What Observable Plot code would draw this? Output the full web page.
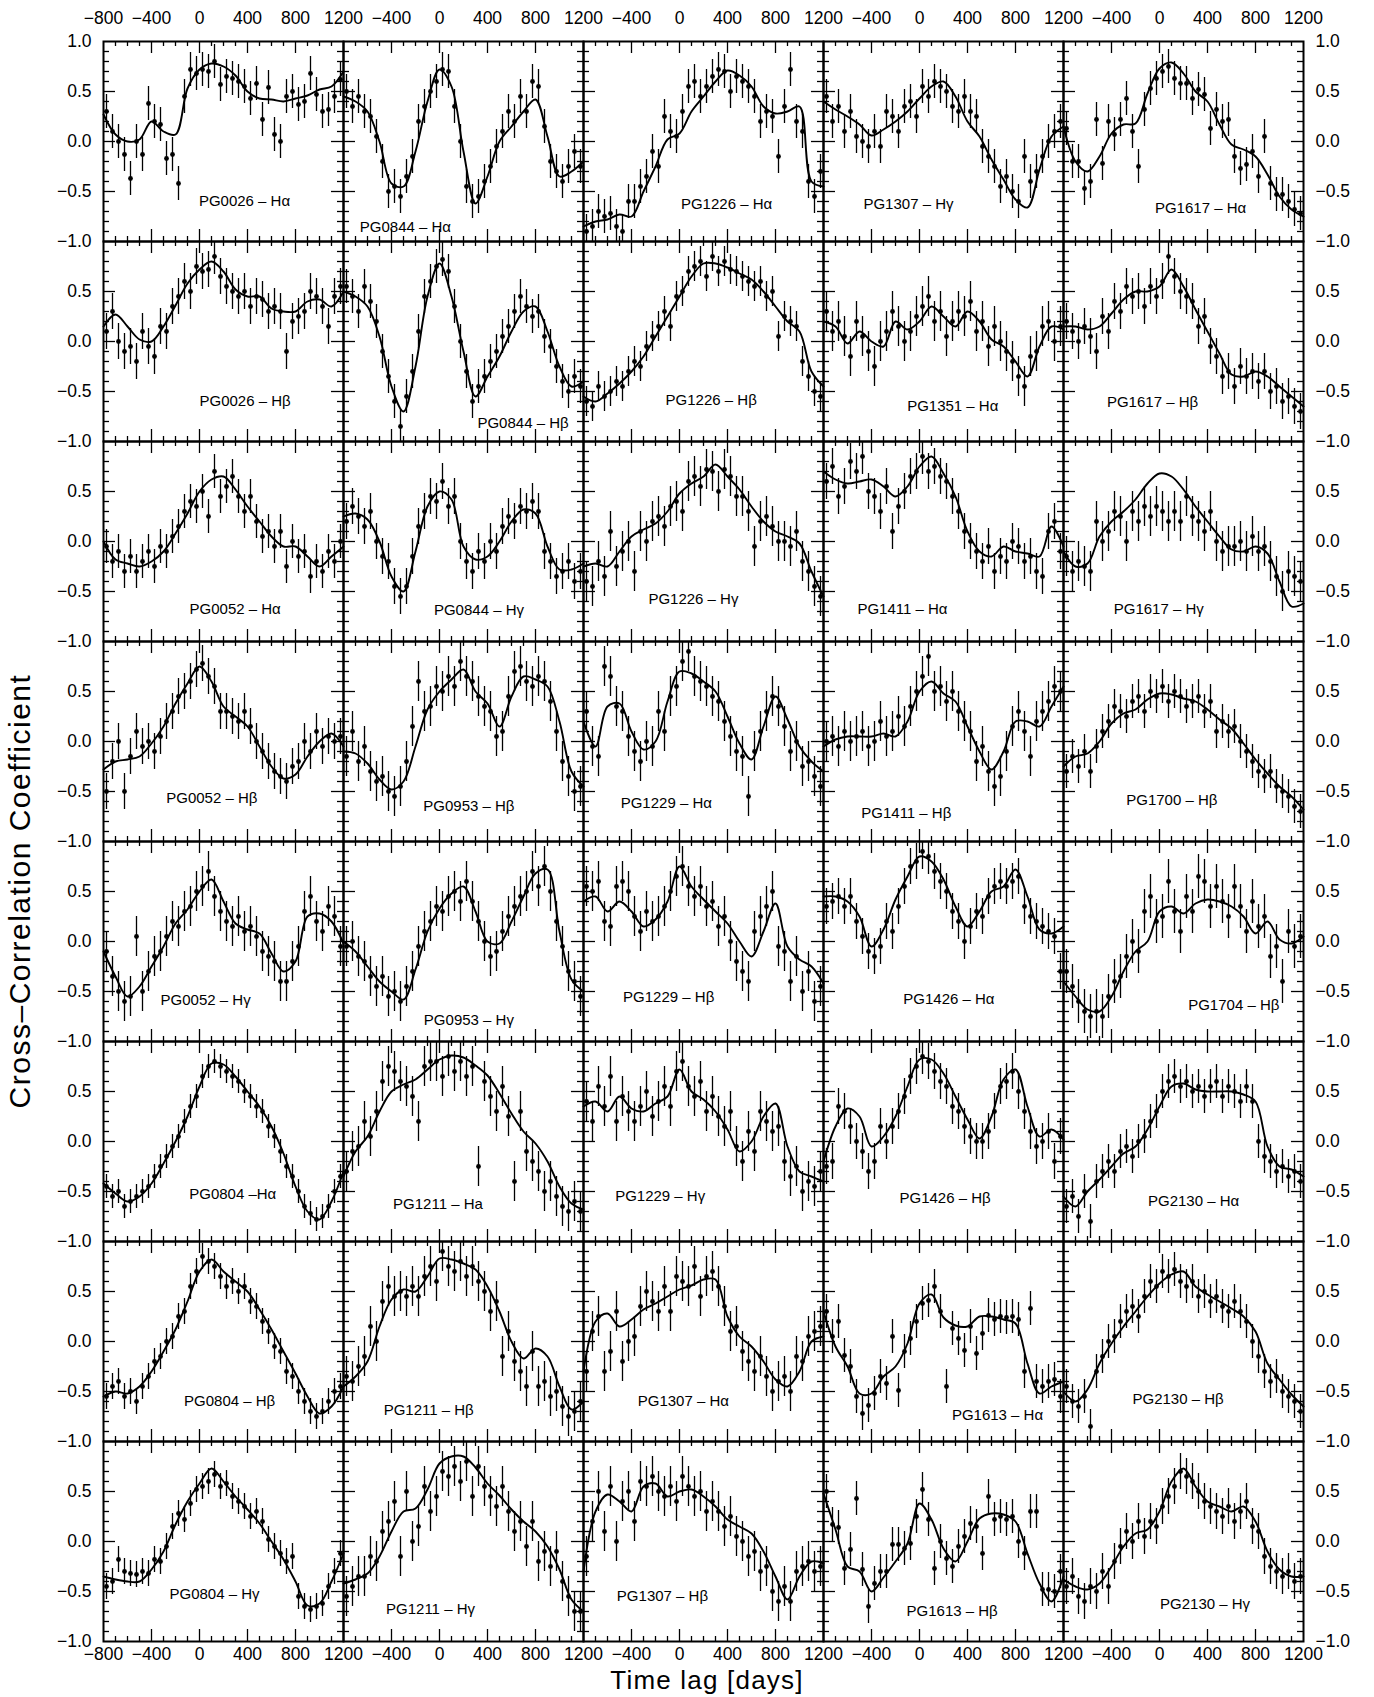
<!DOCTYPE html>
<html>
<head>
<meta charset="utf-8">
<script src="https://cdn.jsdelivr.net/npm/d3@7"></script>
<script src="https://cdn.jsdelivr.net/npm/@observablehq/plot@0.6"></script>
<style>
  html, body { margin: 0; padding: 0; background: #fff; }
  #wrap { position: relative; width: 1374px; height: 1697px; font-family: "Liberation Sans", Arial, Helvetica, sans-serif; color: #000; }
  #chart { position: absolute; left: 0; top: 0; }
  #ytitle { position: absolute; left: 20px; top: 891px; transform: translate(-50%, -50%) rotate(-90deg); font-size: 30px; letter-spacing: 1.5px; white-space: nowrap; line-height: 1; }
  #xtitle { position: absolute; left: 707px; top: 1667px; transform: translateX(-50%); font-size: 26px; letter-spacing: 1.2px; white-space: nowrap; line-height: 1; }
</style>
</head>
<body>
<div id="wrap">
  <div id="chart"></div>
  <div id="ytitle">Cross–Correlation Coefficient</div>
  <div id="xtitle">Time lag [days]</div>
</div>
<script>
// ---------- shared lag grids and tick values ----------
const curveLags = [-800,-700,-600,-500,-400,-300,-200,-100,0,100,200,300,400,500,600,700,800,900,1000,1100,1200];
const pointLags = [-775,-725,-675,-625,-575,-525,-475,-425,-375,-325,-275,-225,-175,-125,-75,-25,25,75,125,175,225,275,325,375,425,475,525,575,625,675,725,775,825,875,925,975,1025,1075,1125,1175];
const lagMinorTicks = [-700,-600,-500,-300,-200,-100,100,200,300,500,600,700,900,1000,1100];
const lagMajorTicks = [-400,0,400,800];
const corrMinorTicks = [-0.9,-0.8,-0.7,-0.6,-0.4,-0.3,-0.2,-0.1,0.1,0.2,0.3,0.4,0.6,0.7,0.8,0.9];
const corrMajorTicks = [-0.5,0,0.5];
const firstColLagLabels = [-800,-400,0,400,800,1200];
const otherColLagLabels = [-400,0,400,800,1200];
const topRowCorrLabels = [1.0,0.5,0.0,-0.5,-1.0];
const otherRowCorrLabels = [0.5,0.0,-0.5,-1.0];

// ---------- row 1 ----------
const pg0026_ha_curve = [0.27,0.07,0.0,0.02,0.2,0.1,0.07,0.53,0.72,0.78,0.75,0.66,0.5,0.43,0.42,0.40,0.43,0.46,0.52,0.55,0.7];
const pg0026_ha_pts = [0.3,0.1,0.0,-0.13,-0.37,0.0,-0.13,0.38,0.2,0.17,-0.17,-0.13,-0.42,0.45,0.72,0.68,0.72,0.7,0.8,0.57,0.65,0.63,0.6,0.55,0.43,0.58,0.22,0.54,0.07,0.0,0.45,0.5,0.37,0.4,0.68,0.47,0.3,0.32,0.45,0.62];
const pg0844_ha_curve = [0.45,0.4,0.3,0.0,-0.42,-0.45,-0.1,0.4,0.72,0.55,-0.1,-0.62,-0.35,0.0,0.15,0.3,0.42,0.05,-0.35,-0.3,-0.2];
const pg0844_ha_pts = [0.5,0.35,0.45,0.3,0.25,0.05,-0.2,-0.5,-0.45,-0.55,-0.35,-0.15,0.2,0.35,0.5,0.6,0.72,0.7,0.35,0.0,-0.45,-0.6,-0.55,-0.4,-0.25,-0.05,0.1,0.3,0.2,0.45,0.3,0.6,0.55,0.15,-0.2,-0.3,-0.4,-0.25,-0.1,-0.25];
const pg1226_ha_curve = [-0.85,-0.8,-0.78,-0.73,-0.75,-0.5,-0.25,0.02,0.08,0.3,0.45,0.6,0.71,0.66,0.55,0.35,0.28,0.3,0.35,-0.4,-0.45];
const pg1226_ha_pts = [-0.9,-0.85,-0.7,-0.75,-0.72,-0.85,-0.9,-0.6,-0.6,-0.45,-0.35,-0.1,-0.25,0.25,0.1,0.05,0.3,0.55,0.6,0.45,0.55,0.65,0.72,0.7,0.5,0.65,0.6,0.55,0.45,0.2,0.3,0.25,-0.15,0.35,0.72,0.2,0.1,-0.4,-0.55,-0.3];
const pg1307_hg_curve = [0.4,0.32,0.25,0.17,0.06,0.12,0.2,0.3,0.43,0.55,0.6,0.45,0.2,0.05,-0.18,-0.38,-0.58,-0.66,-0.28,0.05,0.15];
const pg1307_hg_pts = [0.45,0.2,0.35,0.1,0.3,0.05,0.0,-0.05,0.1,-0.05,0.3,0.25,0.1,0.35,0.4,0.25,0.55,0.45,0.6,0.55,0.5,0.35,0.3,0.45,0.3,0.25,-0.05,-0.15,-0.25,-0.45,-0.35,-0.5,-0.6,-0.15,-0.4,-0.3,-0.15,0.0,0.1,0.2];
const pg1617_ha_curve = [0.15,-0.2,-0.3,-0.15,0.08,0.17,0.18,0.48,0.73,0.79,0.68,0.5,0.4,0.17,-0.03,-0.08,-0.15,-0.33,-0.55,-0.68,-0.75];
const pg1617_ha_pts = [0.13,-0.2,-0.2,-0.47,-0.4,0.22,-0.22,0.2,0.07,0.22,0.43,0.1,-0.25,0.32,0.53,0.63,0.7,0.75,0.63,0.58,0.58,0.43,0.52,0.47,0.13,0.32,0.2,0.22,-0.15,-0.27,-0.23,-0.1,-0.35,0.05,-0.42,-0.53,-0.53,-0.6,-0.68,-0.72];
// ---------- row 2 ----------
const pg0026_hb_curve = [0.15,0.27,0.15,0.02,0.0,0.15,0.36,0.58,0.72,0.8,0.7,0.52,0.45,0.45,0.33,0.3,0.3,0.4,0.42,0.35,0.5];
const pg0026_hb_pts = [0.1,0.3,0.0,-0.1,-0.05,-0.2,0.1,-0.05,-0.15,0.15,0.1,0.35,0.45,0.6,0.5,0.75,0.7,0.72,0.85,0.65,0.55,0.5,0.45,0.5,0.35,0.45,0.42,0.3,0.35,0.3,-0.1,0.2,0.25,0.3,0.5,0.45,0.35,0.15,0.45,0.55];
const pg0844_hb_curve = [0.5,0.45,0.35,0.05,-0.45,-0.7,-0.25,0.45,0.78,0.45,-0.1,-0.55,-0.35,-0.15,0.1,0.3,0.35,0.1,-0.25,-0.45,-0.4];
const pg0844_hb_pts = [0.55,0.45,0.3,0.55,0.4,0.2,-0.1,-0.35,-0.6,-0.85,-0.55,-0.3,0.1,0.45,0.6,0.75,0.82,0.7,0.35,0.0,-0.3,-0.6,-0.45,-0.35,-0.2,-0.1,0.05,0.15,0.3,0.45,0.35,0.25,0.3,0.05,-0.05,-0.25,-0.4,-0.5,-0.35,-0.45];
const pg1226_hb_curve = [-0.55,-0.6,-0.52,-0.42,-0.3,-0.15,0.05,0.25,0.45,0.65,0.78,0.78,0.74,0.68,0.62,0.5,0.35,0.2,0.1,-0.3,-0.45];
const pg1226_hb_pts = [-0.6,-0.65,-0.45,-0.55,-0.5,-0.4,-0.45,-0.3,-0.2,-0.25,-0.05,0.05,0.15,0.3,0.15,0.45,0.5,0.7,0.75,0.8,0.65,0.85,0.7,0.8,0.72,0.7,0.65,0.6,0.55,0.6,0.45,0.5,0.05,0.25,0.2,0.15,-0.2,-0.35,-0.5,-0.55];
const pg1351_ha_curve = [0.2,0.15,-0.02,0.1,0.0,-0.05,0.2,0.12,0.2,0.35,0.25,0.15,0.3,0.2,0.02,-0.05,-0.2,-0.35,-0.05,0.15,0.12];
const pg1351_ha_pts = [0.3,0.1,0.2,0.05,-0.15,0.2,0.05,-0.1,-0.25,0.0,0.1,0.3,0.15,0.0,0.1,0.25,0.35,0.45,0.2,0.3,0.05,0.2,0.3,0.25,0.4,0.1,0.2,-0.05,0.15,0.0,-0.1,-0.2,-0.35,-0.45,-0.15,-0.1,0.15,0.2,0.0,0.15];
const pg1617_hb_curve = [0.15,0.15,0.12,0.15,0.28,0.42,0.5,0.5,0.55,0.72,0.55,0.32,0.1,-0.12,-0.33,-0.35,-0.3,-0.35,-0.45,-0.55,-0.65];
const pg1617_hb_pts = [0.2,0.1,0.0,0.15,0.05,-0.1,0.25,0.1,0.4,0.3,0.55,0.45,0.5,0.35,0.55,0.45,0.6,0.85,0.65,0.5,0.45,0.4,0.15,0.25,-0.05,-0.15,-0.35,-0.3,-0.45,-0.25,-0.35,-0.3,-0.4,-0.3,-0.5,-0.45,-0.6,-0.55,-0.65,-0.7];
// ---------- row 3 ----------
const pg0052_ha_curve = [0.0,-0.18,-0.22,-0.25,-0.2,-0.1,0.08,0.28,0.5,0.62,0.65,0.52,0.35,0.2,0.05,-0.05,-0.05,-0.15,-0.25,-0.15,-0.05];
const pg0052_ha_pts = [-0.05,-0.2,-0.1,-0.3,-0.15,-0.3,-0.2,-0.1,-0.25,-0.05,-0.1,0.05,0.15,0.3,0.4,0.35,0.5,0.25,0.7,0.45,0.55,0.65,0.45,0.3,0.45,0.2,0.05,0.1,-0.05,0.1,-0.25,0.0,-0.15,-0.1,-0.35,-0.2,-0.3,-0.1,-0.2,0.0];
const pg0844_hg_curve = [0.25,0.28,0.22,0.0,-0.35,-0.5,-0.1,0.35,0.5,0.42,-0.05,-0.18,-0.15,0.0,0.2,0.32,0.28,-0.05,-0.28,-0.28,-0.22];
const pg0844_hg_pts = [0.2,0.35,0.25,0.15,0.3,0.0,-0.15,-0.2,-0.45,-0.55,-0.45,-0.15,0.15,0.3,0.45,0.4,0.6,0.35,0.45,0.0,-0.2,-0.3,-0.1,-0.2,0.0,-0.1,0.15,0.25,0.2,0.35,0.3,0.4,0.3,-0.1,-0.2,-0.35,-0.3,-0.2,-0.4,-0.3];
const pg1226_hg_curve = [-0.25,-0.22,-0.25,-0.1,0.05,0.12,0.18,0.3,0.48,0.58,0.65,0.77,0.65,0.52,0.35,0.2,0.1,0.05,-0.02,-0.3,-0.55];
const pg1226_hg_pts = [-0.4,-0.45,-0.2,-0.35,0.1,-0.25,-0.1,0.0,-0.3,0.1,0.0,0.2,0.25,0.15,0.35,0.4,0.3,0.6,0.65,0.55,0.72,0.7,0.5,0.72,0.65,0.45,0.45,0.3,-0.05,0.2,0.25,0.15,0.0,0.0,-0.05,0.1,-0.2,-0.3,-0.45,-0.55];
const pg1411_ha_curve = [0.7,0.62,0.58,0.6,0.62,0.55,0.45,0.55,0.75,0.85,0.68,0.45,0.1,-0.1,-0.15,-0.05,-0.1,-0.12,-0.15,0.15,-0.05];
const pg1411_ha_pts = [0.6,0.75,0.45,0.55,0.8,0.7,0.85,0.5,0.45,0.3,0.55,0.1,0.35,0.5,0.65,0.7,0.85,0.7,0.75,0.65,0.6,0.45,0.3,0.1,0.0,-0.1,-0.2,-0.05,-0.3,-0.15,-0.2,0.0,-0.05,-0.2,-0.15,-0.3,-0.35,0.1,0.2,-0.1];
const pg1617_hg_curve = [-0.1,-0.25,-0.22,0.05,0.2,0.3,0.42,0.58,0.68,0.65,0.52,0.35,0.2,0.05,-0.08,-0.1,-0.05,-0.12,-0.4,-0.65,-0.62];
const pg1617_hg_pts = [-0.15,-0.3,-0.2,-0.25,-0.3,0.2,0.0,0.1,0.3,0.25,0.0,0.3,0.2,0.35,0.25,0.35,0.3,0.2,0.3,0.2,0.45,0.25,0.2,0.1,0.3,0.0,-0.1,-0.05,-0.05,0.0,-0.1,0.05,-0.1,-0.05,-0.2,-0.35,-0.5,-0.3,-0.35,-0.4];
// ---------- row 4 ----------
const pg0052_hb_curve = [-0.28,-0.2,-0.18,-0.15,-0.02,0.15,0.38,0.58,0.75,0.6,0.35,0.25,0.15,-0.05,-0.25,-0.37,-0.33,-0.15,0.0,0.08,-0.05];
const pg0052_hb_pts = [-0.5,-0.2,0.0,-0.5,-0.15,0.1,-0.05,0.0,-0.1,0.05,0.2,0.3,0.45,0.5,0.6,0.72,0.78,0.65,0.55,0.3,0.3,0.25,0.2,0.3,0.15,0.0,-0.1,-0.2,-0.3,-0.35,-0.4,-0.25,-0.2,0.0,-0.1,0.1,-0.05,0.05,0.0,0.05];
const pg0953_hb_curve = [-0.1,-0.12,-0.22,-0.38,-0.48,-0.4,-0.05,0.32,0.5,0.62,0.72,0.5,0.38,0.15,0.45,0.65,0.62,0.55,0.2,-0.3,-0.45];
const pg0953_hb_pts = [-0.15,0.1,-0.2,-0.05,-0.3,-0.4,-0.35,-0.5,-0.55,-0.45,-0.2,0.15,0.6,0.3,0.35,0.55,0.5,0.65,0.55,0.8,0.65,0.6,0.45,0.35,0.3,0.05,0.1,0.45,0.7,0.75,0.6,0.55,0.65,0.6,0.4,0.1,-0.2,-0.35,-0.5,-0.45];
const pg1229_ha_curve = [0.2,-0.05,0.35,0.38,0.1,-0.08,0.0,0.4,0.7,0.68,0.6,0.5,0.25,-0.02,-0.18,0.15,0.45,0.22,-0.05,-0.2,-0.3];
const pg1229_ha_pts = [0.3,-0.05,-0.15,0.75,0.65,0.35,0.3,0.05,-0.1,-0.2,0.0,-0.05,0.3,0.1,0.45,0.55,0.8,0.9,0.65,0.6,0.55,0.45,0.4,0.2,0.05,-0.1,-0.15,-0.55,-0.1,0.1,0.3,0.45,0.35,0.15,-0.1,0.0,-0.25,-0.2,-0.35,-0.45];
const pg1411_hb_curve = [-0.05,0.02,0.05,0.05,0.05,0.08,0.05,0.2,0.5,0.6,0.48,0.4,0.15,-0.1,-0.28,-0.1,0.2,0.2,0.15,0.35,0.55];
const pg1411_hb_pts = [0.0,0.05,-0.05,0.1,0.0,0.05,0.1,-0.05,0.0,0.2,0.05,0.1,0.25,0.15,0.35,0.5,0.65,0.85,0.5,0.55,0.4,0.5,0.3,0.2,0.1,-0.2,-0.05,-0.3,-0.45,-0.35,-0.1,0.15,0.3,0.1,-0.15,0.2,0.3,0.4,0.55,0.5];
const pg1700_hb_curve = [-0.25,-0.15,-0.12,0.0,0.18,0.28,0.32,0.42,0.48,0.47,0.43,0.4,0.32,0.22,0.13,-0.02,-0.18,-0.32,-0.45,-0.55,-0.68];
const pg1700_hb_pts = [-0.3,-0.15,-0.25,-0.1,-0.3,-0.05,0.1,0.2,0.35,0.3,0.25,0.4,0.45,0.3,0.5,0.45,0.55,0.4,0.5,0.45,0.35,0.4,0.45,0.3,0.4,0.1,0.2,0.1,0.15,0.0,-0.1,-0.2,-0.3,-0.35,-0.3,-0.45,-0.5,-0.55,-0.65,-0.7];
// ---------- row 5 ----------
const pg0052_hg_curve = [-0.1,-0.35,-0.55,-0.45,-0.25,-0.05,0.18,0.32,0.5,0.62,0.4,0.18,0.12,0.08,-0.12,-0.3,-0.2,0.25,0.28,0.2,-0.02];
const pg0052_hg_pts = [-0.1,-0.35,-0.5,-0.6,-0.55,0.05,-0.5,-0.3,-0.15,-0.1,0.05,0.2,0.15,0.3,0.35,0.5,0.55,0.7,0.45,0.3,0.2,0.15,0.25,0.1,0.15,0.05,-0.1,-0.15,-0.2,-0.4,-0.4,-0.2,-0.05,0.3,0.45,0.2,0.1,0.35,0.25,-0.05];
const pg0953_hg_curve = [0.0,-0.1,-0.25,-0.4,-0.5,-0.58,-0.28,0.1,0.33,0.48,0.55,0.3,0.0,-0.02,0.2,0.45,0.68,0.72,0.1,-0.38,-0.5];
const pg0953_hg_pts = [-0.05,0.0,-0.15,-0.2,-0.35,-0.45,-0.35,-0.55,-0.5,-0.6,-0.45,-0.3,-0.05,0.1,0.2,0.35,0.3,0.45,0.5,0.4,0.6,0.4,0.2,0.0,-0.15,-0.1,0.1,0.25,0.35,0.45,0.5,0.7,0.55,0.75,0.5,0.2,-0.05,-0.3,-0.4,-0.55];
const pg1229_hb_curve = [0.4,0.45,0.3,0.4,0.3,0.15,0.22,0.4,0.75,0.55,0.42,0.3,0.18,0.0,-0.15,0.1,0.38,-0.05,-0.18,-0.25,-0.42];
const pg1229_hb_pts = [0.55,0.5,0.6,0.2,0.15,0.55,0.6,0.5,0.25,0.1,0.3,0.2,0.25,0.35,0.5,0.65,0.75,0.55,0.45,0.55,0.35,0.4,0.15,0.25,0.0,-0.2,-0.3,-0.4,0.1,0.25,0.35,0.5,-0.05,-0.1,-0.4,-0.15,-0.5,-0.3,-0.6,-0.45];
const pg1426_ha_curve = [0.45,0.45,0.4,0.25,-0.05,0.12,0.42,0.65,0.85,0.8,0.62,0.35,0.15,0.3,0.5,0.55,0.72,0.45,0.12,0.08,0.15];
const pg1426_ha_pts = [0.35,0.4,0.45,0.35,0.45,0.2,0.05,-0.1,-0.15,-0.05,0.2,0.1,0.35,0.55,0.75,0.8,0.9,0.85,0.7,0.6,0.5,0.3,0.2,0.0,0.15,0.3,0.25,0.45,0.55,0.6,0.55,0.6,0.65,0.35,0.25,0.2,0.15,0.1,0.05,-0.3];
const pg1704_hb_curve = [-0.4,-0.55,-0.68,-0.7,-0.55,-0.3,-0.1,0.0,0.3,0.35,0.28,0.38,0.42,0.4,0.35,0.25,0.08,0.2,0.02,-0.02,0.05];
const pg1704_hb_pts = [-0.3,-0.45,-0.6,-0.7,-0.75,-0.7,-0.75,-0.55,-0.4,-0.35,-0.15,0.0,-0.1,0.3,0.45,0.2,0.25,0.6,0.3,0.1,0.45,0.3,0.65,0.6,0.35,0.55,0.4,0.25,0.55,0.35,0.1,0.4,0.15,0.25,-0.15,-0.05,-0.4,0.1,-0.05,0.05];
// ---------- row 6 ----------
const pg0804_ha_curve = [-0.42,-0.52,-0.6,-0.55,-0.42,-0.22,0.0,0.25,0.55,0.78,0.77,0.65,0.5,0.35,0.15,-0.12,-0.45,-0.7,-0.78,-0.6,-0.3];
const pg0804_ha_pts = [-0.45,-0.55,-0.5,-0.65,-0.6,-0.55,-0.5,-0.45,-0.35,-0.25,-0.15,-0.05,0.05,0.2,0.35,0.45,0.65,0.75,0.8,0.75,0.7,0.65,0.6,0.5,0.45,0.35,0.3,0.15,0.05,-0.1,-0.25,-0.35,-0.5,-0.65,-0.72,-0.78,-0.75,-0.65,-0.5,-0.35];
const pg1211_ha_curve = [-0.35,-0.1,0.05,0.3,0.5,0.57,0.62,0.72,0.82,0.86,0.84,0.76,0.66,0.48,0.28,0.1,-0.02,-0.2,-0.45,-0.62,-0.68];
const pg1211_ha_pts = [-0.3,-0.1,-0.05,0.2,0.05,0.3,0.6,0.75,0.7,0.6,0.55,0.45,0.2,0.75,0.8,0.8,0.65,0.85,0.7,0.8,0.65,0.75,-0.25,0.6,0.45,0.3,0.55,0.25,-0.4,0.3,-0.1,-0.2,-0.3,-0.5,-0.4,-0.55,-0.65,-0.7,-0.6,-0.7];
const pg1229_hg_curve = [0.35,0.4,0.3,0.45,0.33,0.3,0.38,0.45,0.72,0.5,0.42,0.3,0.12,-0.1,0.0,0.25,0.38,-0.05,-0.3,-0.35,-0.4];
const pg1229_hg_pts = [0.4,0.2,0.55,0.35,0.65,0.2,0.45,0.3,0.2,0.35,0.5,0.25,0.4,0.55,0.35,0.7,0.8,0.55,0.45,0.6,0.3,0.45,0.25,0.15,0.3,-0.05,-0.2,0.1,-0.1,0.3,0.2,0.1,0.15,-0.2,-0.35,-0.25,-0.5,-0.4,-0.45,-0.3];
const pg1426_hb_curve = [-0.2,0.15,0.33,0.25,-0.05,0.05,0.25,0.55,0.82,0.82,0.68,0.45,0.22,0.03,0.25,0.62,0.72,0.35,0.05,0.12,0.02];
const pg1426_hb_pts = [-0.25,-0.2,0.35,0.3,0.15,0.0,-0.1,-0.3,-0.2,0.15,0.0,0.15,0.3,0.45,0.65,0.75,0.85,0.8,0.7,0.6,0.55,0.35,0.3,0.15,0.05,0.0,0.0,0.1,0.3,0.55,0.6,0.7,0.5,0.3,0.1,-0.05,0.0,0.1,-0.2,0.05];
const pg2130_ha_curve = [-0.55,-0.65,-0.5,-0.38,-0.25,-0.12,-0.05,0.12,0.35,0.55,0.58,0.52,0.5,0.5,0.5,0.47,0.4,-0.05,-0.25,-0.28,-0.35];
const pg2130_ha_pts = [-0.65,-0.55,-0.75,-0.5,-0.8,-0.4,-0.3,-0.2,-0.3,-0.1,-0.05,-0.15,0.0,0.05,0.2,0.3,0.5,0.6,0.65,0.55,0.6,0.5,0.55,0.45,0.55,0.6,0.45,0.55,0.5,0.4,0.55,0.4,0.0,-0.15,-0.2,-0.3,-0.25,-0.35,-0.3,-0.4];
// ---------- row 7 ----------
const pg0804_hb_curve = [-0.55,-0.5,-0.52,-0.45,-0.3,-0.1,0.12,0.4,0.7,0.82,0.7,0.6,0.5,0.32,0.12,-0.1,-0.32,-0.55,-0.72,-0.65,-0.45];
const pg0804_hb_pts = [-0.55,-0.45,-0.4,-0.55,-0.5,-0.6,-0.45,-0.35,-0.2,-0.15,0.0,0.05,0.25,0.3,0.55,0.7,0.85,0.8,0.75,0.65,0.55,0.6,0.5,0.55,0.4,0.35,0.2,0.1,-0.05,-0.1,-0.3,-0.35,-0.5,-0.6,-0.7,-0.75,-0.7,-0.6,-0.5,-0.45];
const pg1211_hb_curve = [-0.45,-0.35,-0.2,0.15,0.42,0.52,0.5,0.65,0.83,0.82,0.78,0.72,0.55,0.3,0.0,-0.17,-0.07,-0.15,-0.45,-0.68,-0.6];
const pg1211_hb_pts = [-0.35,-0.4,-0.25,-0.15,0.15,0.0,0.4,0.55,0.45,0.5,0.45,0.55,0.45,0.65,0.75,0.6,0.9,0.75,0.7,0.8,0.65,0.75,0.6,0.5,0.3,0.4,-0.15,0.1,-0.2,-0.3,-0.45,-0.1,-0.45,-0.4,-0.55,-0.5,-0.65,-0.75,-0.7,-0.6];
const pg1307_ha_curve = [-0.3,0.2,0.28,0.15,0.22,0.32,0.38,0.45,0.52,0.56,0.62,0.62,0.25,0.05,-0.05,-0.2,-0.38,-0.45,-0.3,0.0,0.05];
const pg1307_ha_pts = [-0.3,0.1,0.25,-0.3,-0.1,0.3,-0.2,0.0,0.05,0.35,0.5,0.4,0.3,0.55,0.3,0.65,0.6,0.55,0.75,0.45,0.65,0.7,0.55,0.35,0.1,0.15,-0.1,-0.2,-0.3,-0.15,-0.35,-0.5,-0.4,-0.35,-0.5,-0.15,-0.2,0.05,0.1,0.15];
const pg1613_ha_curve = [0.3,-0.05,-0.25,-0.52,-0.52,-0.35,-0.25,-0.02,0.38,0.47,0.24,0.16,0.15,0.25,0.25,0.22,0.18,-0.22,-0.52,-0.45,-0.4];
const pg1613_ha_pts = [0.3,0.05,0.2,-0.14,-0.25,-0.55,-0.72,-0.64,-0.52,-0.35,-0.42,0.05,-0.49,-0.1,0.03,0.2,0.38,0.41,0.55,0.3,-0.45,0.13,0.03,-0.09,0.15,-0.12,0.08,0.26,0.22,0.25,0.24,0.25,0.22,-0.3,0.33,-0.4,-0.45,-0.4,-0.38,-0.55];
const pg2130_hb_curve = [-0.5,-0.6,-0.48,-0.22,-0.02,0.15,0.3,0.45,0.58,0.67,0.7,0.55,0.47,0.4,0.33,0.25,0.1,-0.22,-0.38,-0.53,-0.65];
const pg2130_hb_pts = [-0.45,-0.6,-0.65,-0.55,-0.85,-0.3,-0.15,0.0,0.05,0.2,0.3,0.35,0.25,0.45,0.6,0.55,0.7,0.65,0.72,0.6,0.55,0.6,0.45,0.5,0.4,0.45,0.35,0.3,0.4,0.3,0.2,0.0,-0.15,-0.3,-0.4,-0.35,-0.5,-0.55,-0.6,-0.7];
// ---------- row 8 ----------
const pg0804_hg_curve = [-0.35,-0.38,-0.4,-0.4,-0.28,-0.1,0.17,0.4,0.58,0.73,0.6,0.45,0.32,0.18,0.0,-0.18,-0.4,-0.64,-0.62,-0.4,-0.12];
const pg0804_hg_pts = [-0.45,-0.4,-0.18,-0.3,-0.32,-0.33,-0.3,-0.32,-0.18,-0.2,-0.05,0.15,0.28,0.22,0.38,0.52,0.55,0.6,0.67,0.55,0.58,0.45,0.4,0.35,0.25,0.3,0.2,0.02,-0.05,-0.12,-0.2,-0.15,-0.55,-0.65,-0.68,-0.65,-0.62,-0.45,-0.3,-0.12];
const pg1211_hg_curve = [-0.42,-0.38,-0.32,-0.15,0.1,0.3,0.33,0.52,0.78,0.85,0.85,0.74,0.58,0.46,0.32,0.2,0.1,-0.05,-0.28,-0.58,-0.7];
const pg1211_hg_pts = [-0.55,-0.45,-0.35,-0.35,-0.15,-0.2,0.1,0.2,0.4,-0.15,0.5,0.0,0.15,0.55,0.3,0.45,0.7,0.65,0.75,0.6,0.8,0.45,0.75,0.55,0.45,0.35,0.55,0.3,0.1,0.2,-0.05,0.2,-0.2,-0.1,-0.25,-0.1,-0.4,-0.55,-0.7,-0.7];
const pg1307_hb_curve = [-0.3,0.3,0.47,0.4,0.3,0.55,0.58,0.45,0.5,0.52,0.45,0.35,0.22,0.15,0.08,-0.1,-0.35,-0.58,-0.35,-0.2,-0.22];
const pg1307_hb_pts = [-0.15,0.2,0.5,0.1,0.55,0.0,0.4,0.5,0.2,0.6,0.55,0.65,0.5,0.45,0.55,0.4,0.65,0.55,0.45,0.5,0.3,0.4,0.3,0.15,0.25,0.05,0.0,-0.15,-0.1,-0.3,-0.25,-0.5,-0.6,-0.45,-0.6,-0.3,-0.25,-0.2,-0.3,-0.25];
const pg1613_hb_curve = [0.48,0.12,-0.25,-0.3,-0.5,-0.36,-0.2,-0.02,0.38,0.22,-0.07,-0.2,0.0,0.23,0.28,0.27,0.2,-0.12,-0.42,-0.6,-0.35];
const pg1613_hb_pts = [0.5,0.17,0.14,-0.27,-0.08,0.43,-0.28,-0.65,-0.42,-0.3,-0.3,-0.03,-0.03,-0.07,-0.02,0.25,0.52,0.22,-0.27,0.0,-0.17,-0.25,-0.05,0.05,0.18,0.15,-0.12,0.45,0.22,0.25,0.22,0.25,0.0,-0.12,0.3,0.3,-0.48,-0.48,-0.5,-0.3];
const pg2130_hg_curve = [-0.38,-0.45,-0.48,-0.42,-0.25,-0.05,0.08,0.12,0.3,0.6,0.73,0.55,0.4,0.35,0.3,0.35,0.2,-0.1,-0.28,-0.35,-0.35];
const pg2130_hg_pts = [-0.45,-0.35,-0.55,-0.6,-0.45,-0.5,-0.3,-0.45,-0.2,-0.05,0.1,0.0,0.2,0.05,0.2,0.15,0.35,0.45,0.55,0.7,0.65,0.6,0.5,0.4,0.35,0.3,0.25,0.35,0.2,0.3,0.4,0.15,0.1,-0.15,-0.25,-0.3,-0.35,-0.3,-0.4,-0.35];

// ---------- panel metadata (row-major, 5 columns x 8 rows) ----------
const panelNames = [
  "PG0026 – Hα","PG0844 – Hα","PG1226 – Hα","PG1307 – Hγ","PG1617 – Hα",
  "PG0026 – Hβ","PG0844 – Hβ","PG1226 – Hβ","PG1351 – Hα","PG1617 – Hβ",
  "PG0052 – Hα","PG0844 – Hγ","PG1226 – Hγ","PG1411 – Hα","PG1617 – Hγ",
  "PG0052 – Hβ","PG0953 – Hβ","PG1229 – Hα","PG1411 – Hβ","PG1700 – Hβ",
  "PG0052 – Hγ","PG0953 – Hγ","PG1229 – Hβ","PG1426 – Hα","PG1704 – Hβ",
  "PG0804 –Hα","PG1211 – Ha","PG1229 – Hγ","PG1426 – Hβ","PG2130 – Hα",
  "PG0804 – Hβ","PG1211 – Hβ","PG1307 – Hα","PG1613 – Hα","PG2130 – Hβ",
  "PG0804 – Hγ","PG1211 – Hγ","PG1307 – Hβ","PG1613 – Hβ","PG2130 – Hγ"
];
const panelCurves = [
  pg0026_ha_curve,pg0844_ha_curve,pg1226_ha_curve,pg1307_hg_curve,pg1617_ha_curve,
  pg0026_hb_curve,pg0844_hb_curve,pg1226_hb_curve,pg1351_ha_curve,pg1617_hb_curve,
  pg0052_ha_curve,pg0844_hg_curve,pg1226_hg_curve,pg1411_ha_curve,pg1617_hg_curve,
  pg0052_hb_curve,pg0953_hb_curve,pg1229_ha_curve,pg1411_hb_curve,pg1700_hb_curve,
  pg0052_hg_curve,pg0953_hg_curve,pg1229_hb_curve,pg1426_ha_curve,pg1704_hb_curve,
  pg0804_ha_curve,pg1211_ha_curve,pg1229_hg_curve,pg1426_hb_curve,pg2130_ha_curve,
  pg0804_hb_curve,pg1211_hb_curve,pg1307_ha_curve,pg1613_ha_curve,pg2130_hb_curve,
  pg0804_hg_curve,pg1211_hg_curve,pg1307_hb_curve,pg1613_hb_curve,pg2130_hg_curve
];
const panelPoints = [
  pg0026_ha_pts,pg0844_ha_pts,pg1226_ha_pts,pg1307_hg_pts,pg1617_ha_pts,
  pg0026_hb_pts,pg0844_hb_pts,pg1226_hb_pts,pg1351_ha_pts,pg1617_hb_pts,
  pg0052_ha_pts,pg0844_hg_pts,pg1226_hg_pts,pg1411_ha_pts,pg1617_hg_pts,
  pg0052_hb_pts,pg0953_hb_pts,pg1229_ha_pts,pg1411_hb_pts,pg1700_hb_pts,
  pg0052_hg_pts,pg0953_hg_pts,pg1229_hb_pts,pg1426_ha_pts,pg1704_hb_pts,
  pg0804_ha_pts,pg1211_ha_pts,pg1229_hg_pts,pg1426_hb_pts,pg2130_ha_pts,
  pg0804_hb_pts,pg1211_hb_pts,pg1307_ha_pts,pg1613_ha_pts,pg2130_hb_pts,
  pg0804_hg_pts,pg1211_hg_pts,pg1307_hb_pts,pg1613_hb_pts,pg2130_hg_pts
];
const errorHalf = [
  0.17,0.17,0.17,0.17,0.17,
  0.18,0.17,0.15,0.2,0.18,
  0.17,0.18,0.2,0.18,0.2,
  0.18,0.2,0.2,0.2,0.17,
  0.2,0.2,0.2,0.18,0.22,
  0.12,0.2,0.2,0.18,0.17,
  0.13,0.2,0.2,0.17,0.17,
  0.13,0.2,0.2,0.17,0.18
];
const labelLag = [
  375,-284,392,-92,342,
  380,696,264,277,-58,
  297,329,116,-142,-6,
  103,245,-110,-110,103,
  51,245,-90,245,619,
  277,-13,-161,213,284,
  251,-90,32,650,155,
  125,-75,-142,272,380
];
const labelCorr = [
  -0.6,-0.86,-0.63,-0.63,-0.67,
  -0.6,-0.82,-0.59,-0.65,-0.61,
  -0.68,-0.69,-0.58,-0.68,-0.68,
  -0.57,-0.65,-0.62,-0.72,-0.59,
  -0.59,-0.79,-0.56,-0.58,-0.64,
  -0.53,-0.63,-0.55,-0.57,-0.6,
  -0.6,-0.69,-0.6,-0.74,-0.58,
  -0.53,-0.68,-0.55,-0.7,-0.63
];

// ---------- build tables ----------
const NCOL = 5, NROW = 8;
const curveRows = [], pointRows = [], labelRows = [];
panelNames.forEach((name, i) => {
  const col = i % NCOL, row = Math.floor(i / NCOL);
  panelCurves[i].forEach((v, j) => curveRows.push({lag: curveLags[j], r: v, col, row}));
  panelPoints[i].forEach((v, j) => pointRows.push({lag: pointLags[j], r: v, e: errorHalf[i], col, row}));
  labelRows.push({lag: labelLag[i], r: labelCorr[i], text: name, col, row});
});
const topAxisRows = [], bottomAxisRows = [], leftAxisRows = [], rightAxisRows = [];
for (let c = 0; c < NCOL; c++) {
  (c === 0 ? firstColLagLabels : otherColLagLabels).forEach(v => {
    topAxisRows.push({lag: v, col: c, row: 0});
    bottomAxisRows.push({lag: v, col: c, row: NROW - 1});
  });
}
for (let r = 0; r < NROW; r++) {
  (r === 0 ? topRowCorrLabels : otherRowCorrLabels).forEach(v => {
    leftAxisRows.push({r: v, col: 0, row: r});
    rightAxisRows.push({r: v, col: NCOL - 1, row: r});
  });
}
const fmtLag = d => (d < 0 ? "\u2212" + (-d) : String(d));
const fmtCorr = d => (d < 0 ? "\u2212" : "") + Math.abs(d).toFixed(1);

const tickW = 1.3;
const chart = Plot.plot({
  width: 1374,
  height: 1668,
  marginLeft: 103,
  marginRight: 71,
  marginTop: 39,
  marginBottom: 26,
  style: {fontFamily: "'Liberation Sans', Arial, Helvetica, sans-serif", background: "white", color: "black", overflow: "visible"},
  x: {domain: [-800, 1200], axis: null},
  y: {domain: [-1, 1], axis: null},
  fx: {domain: d3.range(NCOL), padding: 0, axis: null},
  fy: {domain: d3.range(NROW), padding: 0, axis: null},
  marks: [
    // inward ticks on every panel
    Plot.ruleX(lagMinorTicks, {x: d => d, y1: () => 1, y2: () => 0.95, strokeWidth: tickW}),
    Plot.ruleX(lagMinorTicks, {x: d => d, y1: () => -1, y2: () => -0.95, strokeWidth: tickW}),
    Plot.ruleX(lagMajorTicks, {x: d => d, y1: () => 1, y2: () => 0.88, strokeWidth: tickW}),
    Plot.ruleX(lagMajorTicks, {x: d => d, y1: () => -1, y2: () => -0.88, strokeWidth: tickW}),
    Plot.ruleY(corrMinorTicks, {y: d => d, x1: () => -800, x2: () => -750, strokeWidth: tickW}),
    Plot.ruleY(corrMinorTicks, {y: d => d, x1: () => 1200, x2: () => 1150, strokeWidth: tickW}),
    Plot.ruleY(corrMajorTicks, {y: d => d, x1: () => -800, x2: () => -700, strokeWidth: tickW}),
    Plot.ruleY(corrMajorTicks, {y: d => d, x1: () => 1200, x2: () => 1100, strokeWidth: tickW}),
    // error bars, points, smooth curves
    Plot.ruleX(pointRows, {x: "lag", y1: d => d.r - d.e, y2: d => d.r + d.e, fx: "col", fy: "row", strokeWidth: 1.3, clip: true}),
    Plot.dot(pointRows, {x: "lag", y: "r", fx: "col", fy: "row", r: 2.4, fill: "black", stroke: null}),
    Plot.line(curveRows, {x: "lag", y: "r", fx: "col", fy: "row", curve: "catmull-rom", strokeWidth: 1.9, stroke: "black"}),
    // panel labels
    Plot.text(labelRows, {x: "lag", y: "r", text: "text", fx: "col", fy: "row", fontSize: 15, fill: "black"}),
    // frames
    Plot.frame({strokeWidth: 2, stroke: "black"}),
    // outer tick labels
    Plot.text(topAxisRows, {x: "lag", y: () => 1, fx: "col", fy: "row", text: d => fmtLag(d.lag), dy: -23, fontSize: 17.5, fill: "black"}),
    Plot.text(bottomAxisRows, {x: "lag", y: () => -1, fx: "col", fy: "row", text: d => fmtLag(d.lag), dy: 13, fontSize: 17.5, fill: "black"}),
    Plot.text(leftAxisRows, {x: () => -800, y: "r", fx: "col", fy: "row", text: d => fmtCorr(d.r), dx: -12, textAnchor: "end", fontSize: 17.5, fill: "black"}),
    Plot.text(rightAxisRows, {x: () => 1200, y: "r", fx: "col", fy: "row", text: d => fmtCorr(d.r), dx: 12, textAnchor: "start", fontSize: 17.5, fill: "black"})
  ]
});
document.getElementById("chart").appendChild(chart);
</script>
</body>
</html>
